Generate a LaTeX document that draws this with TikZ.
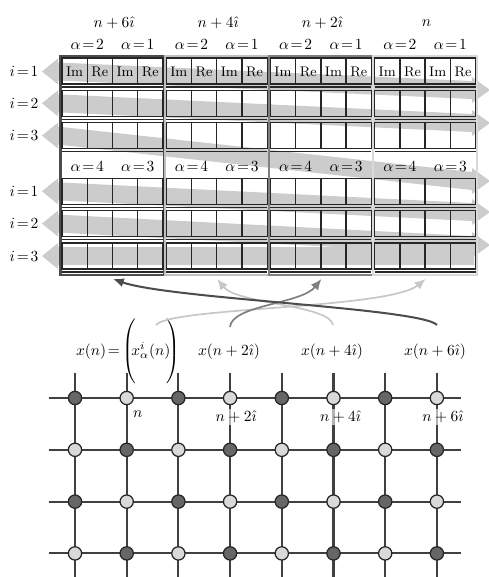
\documentclass[tikz,border=0pt]{standalone}
\usepackage{amsmath}
\usetikzlibrary{arrows.meta}
\begin{document}
\begin{tikzpicture}[x=0.0227cm, y=-0.0227cm,
    cell/.style={draw=black!85, line width=0.9pt},
    band/.style={fill=black!20},
    site/.style={circle, draw=black!85, line width=0.8pt, minimum size=8.6pt, inner sep=0pt},
    lat/.style={black!75, line width=1.3pt},
    flow/.style={line width=1.1pt, -{Latex[length=7pt,width=6pt]}},
    lbl/.style={fill=white, fill opacity=0.6, text opacity=1, inner sep=1pt}]
    \useasboundingbox (0,0) rectangle (488,577);
    % Полосы
    \foreach \l/\r in {71.5/90, 103.3/123, 135.6/181, 191.3/212, 223.6/245}
        \fill[band] (42,\l) -- (58,\l-13) -- (58,\l-9) -- (472,\r-9) -- (472,\r-13)
            -- (490,\r) -- (472,\r+13) -- (472,\r+9) -- (58,\l+9) -- (58,\l+13) -- cycle;
    \fill[band] (42,256) -- (58,243) -- (58,247) -- (474,247) -- (474,265) -- (58,265) -- (58,269) -- cycle;
    % Блоки
    \foreach \b/\bc/\hd in {0/black!70/{n+6\hat\imath}, 1/black!25/{n+4\hat\imath}, 2/black!50/{n+2\hat\imath}, 3/black!15/{n}} {
        \pgfmathsetmacro{\X}{62+104.2*\b}
        \draw[draw=\bc, line width=1.5pt] (\X-1.5,56) rectangle (\X+102.5,275);
        \foreach \t in {58,90.3,122.6,178.3,210.6,243} {
            \draw[cell] (\X,\t) rectangle ++(101,26);
            \foreach \c in {1,2,3} \draw[cell] (\X+25.25*\c,\t) -- ++(0,26);
            \draw[cell] (\X,\t+29) -- ++(101,0);
        }
        \node (hd\b) at (\X+52,23) {$\hd$};
        \node (a2\b) at (\X+25.25,45) {$\alpha\!=\!2$};
        \node (a1\b) at (\X+75.75,45) {$\alpha\!=\!1$};
        \node (a4\b) at (\X+25.25,167) {$\alpha\!=\!4$};
        \node (a3\b) at (\X+75.75,167) {$\alpha\!=\!3$};
        \foreach \c/\s in {0/Im,1/Re,2/Im,3/Re}
            \node[font=\small] (c\b\c) at (\X+12.6+25.25*\c,71.5) {\s};
        \coordinate (bot\b) at (\X+51,279);
    }
    \foreach \y/\i [count=\k] in {71.5/1, 103.3/2, 135.6/3, 191.3/1, 223.6/2, 256/3}
        \node (row\k) at (24,\y) {$i\!=\!\i$};
    % Подписи
    \node[anchor=base, inner xsep=1pt] (xn) at (98,355) {$x(n)\!=$};
    \node[anchor=base west, inner xsep=0pt] (xa) at (xn.base east)
        {$\left(\vrule height 18.5pt depth 18.5pt width 0pt\mkern-5mu x^i_\alpha(n)\mkern-5mu\right)$};
    \node[anchor=base] (xn2) at (229,355) {$x(n+2\hat\imath)$};
    \node[anchor=base] (xn4) at (332,355) {$x(n+4\hat\imath)$};
    \node[anchor=base] (xn6) at (435,355) {$x(n+6\hat\imath)$};
    % Стрелки
    \draw[flow, black!22] ([shift={(5,-26)}]xa.center) .. controls +(13,-18) and +(-37,30) .. (bot3);
    \draw[flow, black!22] ([shift={(1,-13)}]xn4.north) .. controls +(-3,-20) and +(20,25) .. (bot1);
    \draw[flow, black!50] ([shift={(1,-11)}]xn2.north) .. controls +(2,-22) and +(-20,25) .. (bot2);
    \draw[flow, black!70, line width=1.3pt] ([shift={(2,-13)}]xn6.north) .. controls +(-17,-17) and +(57,20) .. (bot0);
    % Решётка
    \foreach \c in {0,...,7} \draw[lat] (75+51.7*\c,373) -- (75+51.7*\c,578);
    \foreach \r in {0,...,3} \draw[lat] (49,398+51.8*\r) -- (461,398+51.8*\r);
    \foreach \r in {0,...,3}
        \foreach \c in {0,...,7} {
            \pgfmathtruncatemacro{\sh}{mod(\r+\c,2)==0 ? 60 : 15}
            \node[site, fill=black!\sh] (s\r\c) at (75+51.7*\c,398+51.8*\r) {};
        }
    \node[lbl] (ln) at ([shift={(11,16)}]s01) {$n$};
    \node[lbl] (ln2) at ([shift={(6,19)}]s03) {$n+2\hat\imath$};
    \node[lbl] (ln4) at ([shift={(7,19)}]s05) {$n+4\hat\imath$};
    \node[lbl] (ln6) at ([shift={(6,19)}]s07) {$n+6\hat\imath$};
\end{tikzpicture}
\end{document}
